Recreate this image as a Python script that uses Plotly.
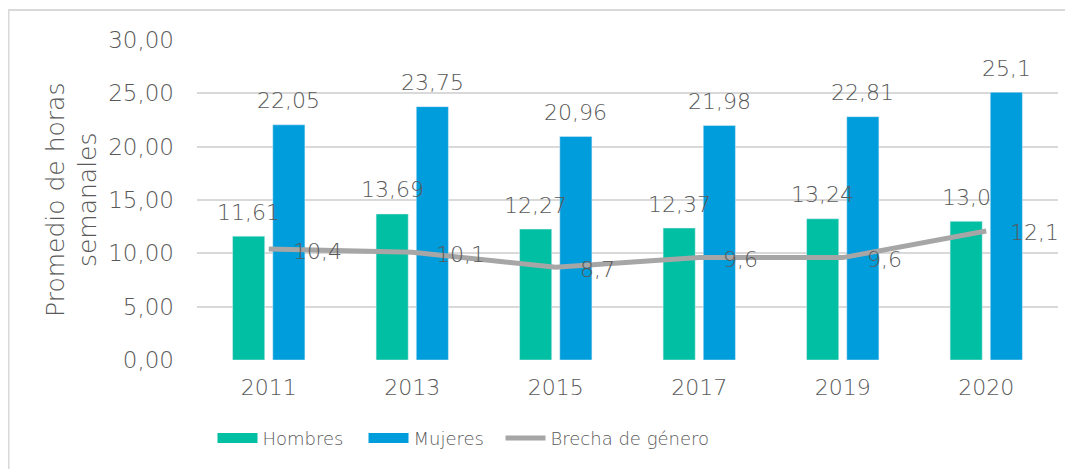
import plotly.graph_objects as go

years = ["2011", "2013", "2015", "2017", "2019", "2020"]
hombres = [11.61, 13.69, 12.27, 12.37, 13.24, 13.0]
mujeres = [22.05, 23.75, 20.96, 21.98, 22.81, 25.1]
brecha = [10.4, 10.1, 8.7, 9.6, 9.6, 12.1]
hombres_labels = ["11,61", "13,69", "12,27", "12,37", "13,24", "13,0"]
mujeres_labels = ["22,05", "23,75", "20,96", "21,98", "22,81", "25,1"]
brecha_labels = ["10,4", "10,1", "8,7", "9,6", "9,6", "12,1"]

C_H = "#00BFA2"
C_M = "#009DDC"
C_L = "#A6A6A6"
TXT = "#595959"
FONT = "DejaVu Sans"
W = 200

fig = go.Figure()
fig.add_trace(go.Bar(x=years, y=hombres, name="Hombres", marker_color=C_H,
                     showlegend=False))
fig.add_trace(go.Bar(x=years, y=mujeres, name="Mujeres", marker_color=C_M,
                     showlegend=False))
fig.add_trace(go.Scatter(x=years, y=brecha, mode="lines", name="Brecha de género",
                         line=dict(color=C_L, width=5), showlegend=False))

# legend entries (no data drawn), one legend each for exact spacing
leg_specs = [("Hombres", C_H, 12, "legend", 0.018),
             ("Mujeres", C_M, 12, "legend2", 0.1934),
             ("Brecha de género", C_L, 5, "legend3", 0.3525)]
for nm, col, w, lg, _ in leg_specs:
    fig.add_trace(go.Scatter(x=[years[0]], y=[None], mode="lines", name=nm,
                             line=dict(color=col, width=w), legend=lg))

ann = []
for i, (v, t) in enumerate(zip(hombres, hombres_labels)):
    ann.append(dict(x=i, y=v, text=t, showarrow=False, xshift=-20, yshift=24,
                    yanchor="middle", xanchor="center"))
for i, (v, t) in enumerate(zip(mujeres, mujeres_labels)):
    ann.append(dict(x=i, y=v, text=t, showarrow=False, xshift=20, yshift=24,
                    yanchor="middle", xanchor="center"))
for i, (v, t) in enumerate(zip(brecha, brecha_labels)):
    ann.append(dict(x=i, y=v, text=t, showarrow=False, xshift=22, yshift=-2,
                    yanchor="middle", xanchor="left"))
for a in ann:
    a["font"] = dict(family=FONT, size=22, color=TXT, weight=W)

ann.append(dict(xref="paper", yref="paper", x=-0.1452, y=0.5,
                text="Promedio de horas<br>semanales", textangle=-90,
                showarrow=False, xanchor="center", yanchor="middle",
                font=dict(family=FONT, size=25, color=TXT, weight=W)))

legend_common = dict(orientation="h", xanchor="left", y=-0.245, yanchor="middle",
                     font=dict(family=FONT, size=18, color=TXT, weight=W),
                     itemwidth=40, bgcolor="rgba(0,0,0,0)")
legends = {}
for nm, col, w, lg, lx in leg_specs:
    legends[lg] = dict(legend_common, x=lx)

fig.update_layout(
    width=1073, height=469,
    margin=dict(l=189, r=23, t=32, b=117),
    paper_bgcolor="white", plot_bgcolor="white",
    separators=", ",
    barmode="group", bargap=0.44, bargroupgap=0.2,
    font=dict(family=FONT, size=22, color=TXT, weight=W),
    annotations=ann,
    shapes=[dict(type="rect", xref="paper", yref="paper",
                 x0=-188.5 / 861, x1=1.2, y0=-0.5, y1=1 + 30 / 320,
                 line=dict(color="#D9D9D9", width=2), layer="below")],
    **legends,
)
fig.update_xaxes(type="category", categoryorder="array", categoryarray=years,
                 range=[-0.5, len(years) - 0.5], showgrid=False, showline=False,
                 ticks="", ticklabelstandoff=12,
                 tickfont=dict(family=FONT, size=22, color=TXT, weight=W))
fig.update_yaxes(range=[0, 30], dtick=5, tickformat=".2f", showgrid=True,
                 gridcolor="#D9D9D9", gridwidth=1.5, zeroline=False, showline=False,
                 ticks="", ticklabelstandoff=22,
                 tickfont=dict(family=FONT, size=23, color=TXT, weight=W))

fig.write_html("out.html")
